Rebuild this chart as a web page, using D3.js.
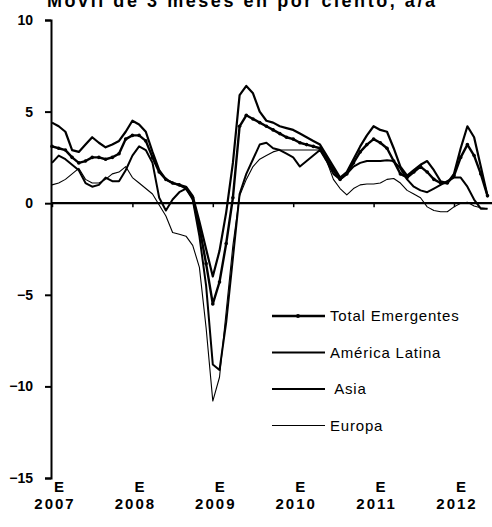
<!DOCTYPE html>
<html>
<head>
<meta charset="utf-8">
<script src="https://cdn.jsdelivr.net/npm/d3@7/dist/d3.min.js"></script>
<style>
  body { margin: 0; background: #fff; }
  svg { display: block; font-family: "Liberation Sans", Arial, sans-serif; }
</style>
</head>
<body>
<div id="chart-area"></div>
<script>
// monthly, Jan 2007 .. Jun 2012 (index 0 = E 2007)
const years = ["2007", "2008", "2009", "2010", "2011", "2012"]
const yTicks = [10, 5, 0, -5, -10, -15]

const totalEmergentes = [3.1,3.0,2.9,2.5,2.2,2.3,2.5,2.5,2.4,2.5,
	2.7,3.5,3.7,3.7,3.4,2.5,1.7,1.3,1.1,1.0,
	0.8,0.3,-1.3,-3.3,-5.5,-4.3,-2.2,0.3,4.2,4.8,
	4.6,4.4,4.2,4.0,3.8,3.6,3.5,3.3,3.2,3.1,
	3.0,2.4,1.8,1.3,1.6,2.2,2.8,3.2,3.5,3.3,
	3.0,2.3,1.6,1.4,1.7,2.0,1.7,1.3,1.1,1.1,
	1.5,2.5,3.2,2.6,1.6,0.4]
const asia = [4.4,4.2,3.9,2.9,2.8,3.2,3.6,3.3,3.05,3.2,
	3.4,3.9,4.5,4.3,3.9,2.8,1.8,1.3,1.1,1.0,
	0.9,0.4,-1.0,-2.5,-4.0,-2.6,-0.5,2.2,5.9,6.4,
	6.0,5.0,4.5,4.4,4.2,4.1,4.0,3.8,3.6,3.4,
	3.2,2.6,2.0,1.4,1.7,2.4,3.1,3.7,4.2,4.0,
	3.9,3.0,2.0,1.5,1.8,2.1,2.3,1.8,1.2,1.1,
	1.6,3.0,4.2,3.6,2.0,0.4]
const americaLatina = [2.2,2.6,2.4,2.1,1.8,1.1,0.9,1.0,1.4,1.2,
	1.2,1.8,2.6,3.1,2.9,2.2,0.3,-0.4,0.2,0.6,
	0.8,0.2,-1.8,-4.5,-8.8,-9.1,-6.5,-3.0,0.5,1.6,
	2.4,3.2,3.3,3.0,2.9,2.7,2.5,2.0,2.3,2.6,
	2.9,2.3,1.6,1.3,1.6,2.0,2.2,2.3,2.3,2.3,
	2.35,2.3,1.9,1.3,0.9,0.7,0.6,0.8,1.0,1.2,
	1.4,1.4,0.9,0.2,-0.3,-0.3]
const europa = [1.0,1.1,1.3,1.6,1.9,1.3,1.1,1.1,1.3,1.6,
	1.7,2.0,1.4,1.1,0.8,0.5,-0.1,-0.7,-1.6,-1.7,
	-1.8,-2.3,-3.5,-6.8,-10.8,-9.5,-5.9,-2.3,0.4,1.3,
	2.0,2.4,2.6,2.8,2.9,2.9,2.9,2.9,2.9,2.9,
	2.9,2.3,1.3,0.8,0.45,0.8,1.0,1.05,1.05,1.1,
	1.3,1.35,1.1,0.7,0.5,0.3,-0.2,-0.4,-0.47,-0.47,
	-0.2,0.0,0.05,-0.15,-0.25,-0.3]

const series = [
	{ name: "Total Emergentes", values: totalEmergentes, width: 2.4, marker: true },
	{ name: "América Latina", values: americaLatina, width: 2.0 },
	{ name: " Asia", values: asia, width: 2.2 },
	{ name: "Europa", values: europa, width: 1.1 }
]

const W = 492, H = 527

const svg = d3.select("#chart-area").append("svg")
	.attr("width", W)
	.attr("height", H)

// title, mostly cut off at the top edge
svg.append("text")
	.attr("x", 47)
	.attr("y", 7)
	.attr("font-size", "18px")
	.attr("font-weight", "bold")
	.attr("textLength", 388)
	.text("Móvil de 3 meses en por ciento, a/a")

// scales
const x = d3.scaleLinear().domain([0, 60]).range([52, 454])
const y = d3.scaleLinear().domain([-15, 10]).range([478, 20])

// y axis
const yAxis = svg.append("g")
	.attr("transform", "translate(51,0)")
	.call(d3.axisLeft(y).tickValues(yTicks).tickSize(6).tickSizeOuter(6).tickPadding(12))
yAxis.select(".domain").attr("stroke-width", 2)
yAxis.selectAll(".tick line").attr("stroke-width", 2)
yAxis.selectAll("text")
	.attr("font-size", "14px")
	.attr("font-weight", "bold")
	.attr("font-family", "Liberation Sans, Arial, sans-serif")
	.attr("fill", "#000")

// zero line + year ticks
svg.append("line")
	.attr("x1", 51).attr("x2", W)
	.attr("y1", y(0)).attr("y2", y(0))
	.attr("stroke", "#000")
	.attr("stroke-width", 2.2)
const xAxis = svg.append("g")
	.attr("transform", `translate(0,${y(0)})`)
	.call(d3.axisBottom(x).tickValues(years.map((d, i) => i * 12)).tickSize(4).tickFormat(""))
xAxis.select(".domain").remove()
xAxis.selectAll(".tick line").attr("stroke-width", 1.5)

// bottom labels
const lab = svg.append("g")
	.attr("font-size", "15px")
	.attr("font-weight", "bold")
	.attr("text-anchor", "middle")
years.forEach((yr, i) => {
	lab.append("text").attr("x", x(i * 12) + 7).attr("y", 492).text("E")
	lab.append("text").attr("x", x(i * 12) + 3).attr("y", 509)
		.attr("letter-spacing", "2px").text(yr)
})

// lines
const line = d3.line()
	.x((d, i) => x(i))
	.y(d => y(d))

series.forEach(s => {
	svg.append("path")
		.attr("fill", "none")
		.attr("stroke", "#000")
		.attr("stroke-width", s.width)
		.attr("stroke-linejoin", "round")
		.attr("d", line(s.values))
	if (s.marker) {
		svg.append("g").selectAll("circle")
			.data(s.values)
			.join("circle")
			.attr("cx", (d, i) => x(i))
			.attr("cy", d => y(d))
			.attr("r", 1.8)
			.attr("fill", "#000")
	}
})

// legend
const legend = svg.append("g")
series.forEach((s, i) => {
	const ly = 316 + i * 36.5
	legend.append("line")
		.attr("x1", 272).attr("x2", 325)
		.attr("y1", ly).attr("y2", ly)
		.attr("stroke", "#000")
		.attr("stroke-width", s.width)
	if (s.marker) {
		legend.append("circle").attr("cx", 298).attr("cy", ly).attr("r", 2).attr("fill", "#000")
	}
	legend.append("text")
		.attr("x", 330)
		.attr("y", ly + 5)
		.attr("font-size", "15px")
		.attr("letter-spacing", "0.8px")
		.attr("xml:space", "preserve")
		.style("white-space", "pre")
		.text(s.name)
})
</script>
</body>
</html>
